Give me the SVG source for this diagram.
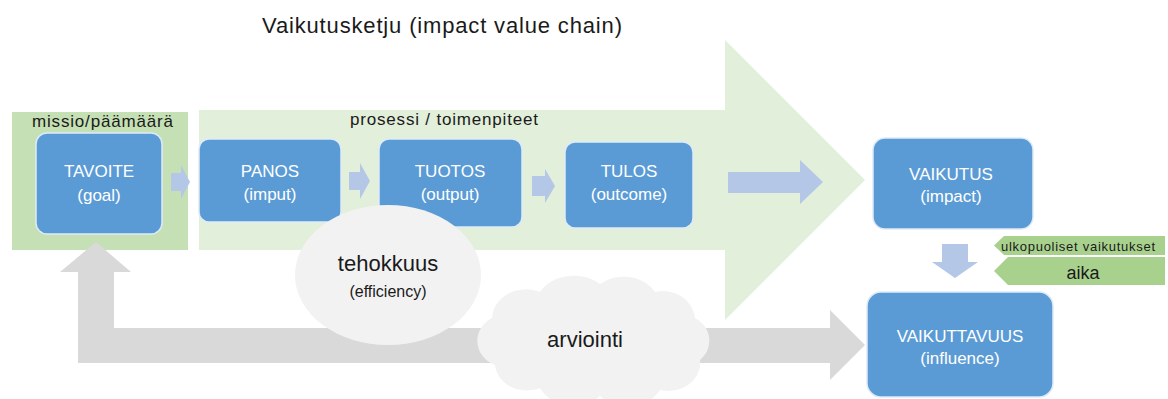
<svg xmlns="http://www.w3.org/2000/svg" width="1168" height="399" viewBox="0 0 1168 399">
<style>
.t{font-family:"Liberation Sans",Arial,sans-serif;}
.box{fill:#5b9bd5;stroke:#deebf7;stroke-width:1.5;}
.bt{font-family:"Liberation Sans",Arial,sans-serif;font-size:17px;fill:#ffffff;text-anchor:middle;}
.sa{fill:#b4c7e7;}
.gray{fill:#d9d9d9;}
.bubble{fill:#f2f2f2;}
.tag{fill:#a9d18e;}
</style>
<rect width="1168" height="399" fill="#ffffff"/>
<text class="t" x="262" y="33" font-size="22" fill="#1a1a1a" textLength="360">Vaikutusketju (impact value chain)</text>

<g id="process">
<path d="M199 110 L725 110 L725 40 L865 180 L725 320 L725 250 L199 250 Z" fill="#e2efda"/>
<text class="t" x="350" y="125" font-size="17" fill="#1a1a1a" textLength="188">prosessi / toimenpiteet</text>
</g>
<g id="missio">
<rect x="12" y="112" width="176" height="138" fill="#c5e0b4"/>
<text class="t" x="32" y="127" font-size="17" fill="#1a1a1a" textLength="141">missio/päämäärä</text>
</g>

<g id="connectors">
<path id="feedback" class="gray" d="M96 242 L131 272 L114 272 L114 328 L830 328 L830 310 L865 345 L830 380 L830 363 L78 363 L78 272 L60 272 Z"/>
<path class="sa" d="M171 173 L181 173 L181 165 L190 182 L181 199 L181 191 L171 191 Z"/>
<path class="sa" d="M349 172 L360 172 L360 163 L370 181 L360 199 L360 190 L349 190 Z"/>
<path class="sa" d="M532 176 L545 176 L545 169 L555 186 L545 203 L545 196 L532 196 Z"/>
<path class="sa" d="M728 172 L800 172 L800 160 L823 182 L800 204 L800 193 L728 193 Z"/>
<path class="sa" d="M942 244 L968 244 L968 262 L978 262 L955 278 L932 262 L942 262 Z"/>
</g>

<g id="tavoite">
<rect class="box" x="36" y="133" width="126" height="101" rx="11"/>
<text class="bt" x="99" y="177">TAVOITE</text>
<text class="bt" x="99" y="201">(goal)</text>
</g>
<g id="panos">
<rect class="box" x="199" y="139" width="142" height="83" rx="10"/>
<text class="bt" x="270" y="177">PANOS</text>
<text class="bt" x="270" y="200">(imput)</text>
</g>
<g id="tuotos">
<rect class="box" x="379" y="139" width="143" height="88" rx="10"/>
<text class="bt" x="450" y="177">TUOTOS</text>
<text class="bt" x="450" y="200">(output)</text>
</g>
<g id="tulos">
<rect class="box" x="565" y="142" width="128" height="86" rx="10"/>
<text class="bt" x="629" y="177">TULOS</text>
<text class="bt" x="629" y="200">(outcome)</text>
</g>
<g id="vaikutus">
<rect class="box" x="873" y="138" width="160" height="91" rx="12"/>
<text class="bt" x="951" y="180">VAIKUTUS</text>
<text class="bt" x="951" y="202">(impact)</text>
</g>
<g id="vaikuttavuus">
<rect class="box" x="867" y="292" width="186" height="105" rx="14"/>
<text class="bt" x="960" y="342">VAIKUTTAVUUS</text>
<text class="bt" x="960" y="364">(influence)</text>
</g>

<g id="tehokkuus">
<ellipse class="bubble" cx="388" cy="275" rx="93" ry="70"/>
<text class="t" x="388" y="271" font-size="22" fill="#1a1a1a" text-anchor="middle">tehokkuus</text>
<text class="t" x="388" y="297" font-size="16" fill="#1a1a1a" text-anchor="middle">(efficiency)</text>
</g>
<g id="arviointi">
<path class="bubble" d="M492 318 A34 30 0 0 1 540 292 A38 30 0 0 1 600 284 A36 30 0 0 1 655 292 A32 30 0 0 1 695 318 A28 26 0 0 1 700 360 A32 28 0 0 1 660 390 A36 28 0 0 1 600 396 A36 28 0 0 1 540 388 A32 28 0 0 1 495 365 A28 26 0 0 1 492 318 Z"/>
<text class="t" x="585" y="347" font-size="22" fill="#1a1a1a" text-anchor="middle">arviointi</text>
</g>

<g id="ulkopuoliset">
<path class="tag" d="M1004 236 H1165 V255 H1004 L994 245.5 Z"/>
<text class="t" x="1001" y="251" font-size="13" fill="#1a1a1a" textLength="154">ulkopuoliset  vaikutukset</text>
</g>
<g id="aika">
<path class="tag" d="M1008 257 H1165 V285 H1008 L994 271 Z"/>
<text class="t" x="1083" y="279" font-size="18" fill="#1a1a1a" text-anchor="middle">aika</text>
</g>
</svg>
